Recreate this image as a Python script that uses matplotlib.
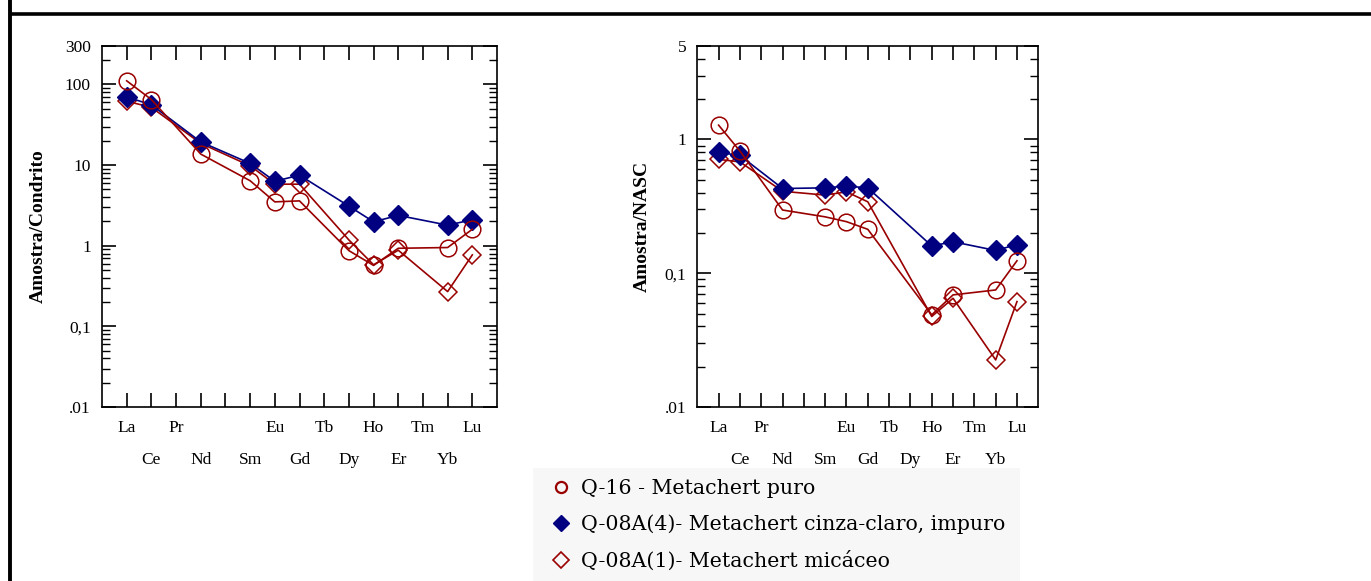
import numpy as np
import matplotlib.pyplot as plt
from matplotlib.lines import Line2D
from matplotlib.patches import Rectangle
from matplotlib.ticker import FixedLocator, LogLocator, NullFormatter

# REE order (Pm kept as an empty slot)
elements = ['La', 'Ce', 'Pr', 'Nd', 'Pm', 'Sm', 'Eu', 'Gd', 'Tb', 'Dy', 'Ho', 'Er', 'Tm', 'Yb', 'Lu']
row1 = ['La', 'Pr', 'Eu', 'Tb', 'Ho', 'Tm', 'Lu']
row2 = ['Ce', 'Nd', 'Sm', 'Gd', 'Dy', 'Er', 'Yb']
nan = np.nan

# sample / chondrite
q16_cho   = [111, 65, nan, 13.7, nan, 6.4, 3.5, 3.6, nan, 0.87, 0.57, 0.93, nan, 0.95, 1.6]
q08a4_cho = [70, 56, nan, 19.4, nan, 10.5, 6.3, 7.5, nan, 3.1, 1.98, 2.38, nan, 1.8, 2.1]
q08a1_cho = [62, 52, nan, 18.6, nan, 9.8, 5.8, 5.8, nan, 1.18, 0.58, 0.88, nan, 0.27, 0.77]

# sample / NASC
q16_nasc   = [1.28, 0.82, nan, 0.297, nan, 0.264, 0.243, 0.213, nan, nan, 0.0489, 0.0689, nan, 0.075, 0.124]
q08a4_nasc = [0.80, 0.76, nan, 0.43, nan, 0.435, 0.448, 0.435, nan, nan, 0.160, 0.172, nan, 0.148, 0.164]
q08a1_nasc = [0.71, 0.68, nan, 0.41, nan, 0.384, 0.406, 0.342, nan, nan, 0.0475, 0.065, nan, 0.0225, 0.0614]

labels = ['Q-16 - Metachert puro',
          'Q-08A(4)- Metachert cinza-claro, impuro',
          'Q-08A(1)- Metachert micáceo']

RED = '#990000'
BLUE = '#000080'
SERIF = ['Liberation Serif', 'DejaVu Serif']
W, H = 1371, 581

plt.rcParams['font.family'] = SERIF


def plot_series(ax, vals, **kw):
    v = np.array(vals, dtype=float)
    x = np.arange(len(v))
    ok = ~np.isnan(v)
    ax.plot(x[ok], v[ok], lw=1.2, **kw)


def setup_axes(ax, ymin, ymax, majors, majlabels, ylabel, lpad):
    ax.set_yscale('log')
    ax.set_ylim(ymin, ymax)
    ax.set_xlim(-1.0, len(elements))
    for s in ax.spines.values():
        s.set_linewidth(1.2)
    ax.yaxis.set_major_locator(FixedLocator(majors))
    ax.set_yticklabels(majlabels)
    ax.yaxis.set_minor_locator(LogLocator(base=10, subs=np.arange(2, 10)))
    ax.yaxis.set_minor_formatter(NullFormatter())
    ax.tick_params(axis='y', which='major', direction='in', length=10, width=1.2,
                   left=True, right=True, labelsize=12.5, pad=8)
    ax.tick_params(axis='y', which='minor', direction='in', length=6, width=1.0,
                   left=True, right=True)
    ax.set_xticks(np.arange(len(elements)))
    ax.set_xticklabels([])
    ax.tick_params(axis='x', which='major', direction='in', length=10, width=1.2,
                   top=True, bottom=True)
    ax.tick_params(axis='x', which='minor', bottom=False, top=False)
    tr = ax.get_xaxis_transform()
    for i, el in enumerate(elements):
        if el in row1:
            ax.text(i, -0.058, el, transform=tr, ha='center', va='center', fontsize=12.5)
        elif el in row2:
            ax.text(i, -0.147, el, transform=tr, ha='center', va='center', fontsize=12.5)
    ax.set_ylabel(ylabel, fontsize=14, fontweight='bold', labelpad=lpad)


fig = plt.figure(figsize=(W / 100, H / 100), dpi=100)

ax1 = fig.add_axes([102 / W, 1 - 407 / H, 395 / W, 361 / H])
ax2 = fig.add_axes([697.3 / W, 1 - 407 / H, 341 / W, 361 / H])

for ax, a1, a4, q16 in [(ax1, q08a1_cho, q08a4_cho, q16_cho),
                        (ax2, q08a1_nasc, q08a4_nasc, q16_nasc)]:
    plot_series(ax, a1, color=RED, marker='D', ms=9, mfc='none', mec=RED, mew=1.1)
    plot_series(ax, a4, color=BLUE, marker='D', ms=10, mfc=BLUE, mec=BLUE)
    plot_series(ax, q16, color=RED, marker='o', ms=12, mfc='none', mec=RED, mew=1.1)

setup_axes(ax1, 0.01, 300, [0.01, 0.1, 1, 10, 100, 300],
           ['.01', '0,1', '1', '10', '100', '300'], 'Amostra/Condrito', 13)
setup_axes(ax2, 0.01, 5, [0.01, 0.1, 1, 5],
           ['.01', '0,1', '1', '5'], 'Amostra/NASC', 10)

# outer frame lines (top and left)
fig.add_artist(Line2D([9.5 / W, 1], [1 - 13.5 / H, 1 - 13.5 / H], transform=fig.transFigure,
                      color='black', lw=2.6, solid_capstyle='butt'))
fig.add_artist(Line2D([9.5 / W, 9.5 / W], [0, 1], transform=fig.transFigure,
                      color='black', lw=2.8, solid_capstyle='butt'))

# legend box
fig.add_artist(Rectangle((533 / W, 0), (1020 - 533) / W, (581 - 468) / H,
                         transform=fig.transFigure, facecolor='#f7f7f7', edgecolor='none', zorder=0))
handles = [Line2D([], [], ls='none', marker='o', ms=8, mfc='none', mec=RED, mew=1.6),
           Line2D([], [], ls='none', marker='D', ms=8, mfc=BLUE, mec=BLUE),
           Line2D([], [], ls='none', marker='D', ms=8, mfc='none', mec=RED, mew=1.2)]
fig.legend(handles, labels, loc='upper left', bbox_to_anchor=(551 / W, 1 - 479 / H),
           frameon=False, handlelength=1.0, handletextpad=0.45,
           labelspacing=0.8, borderaxespad=0, borderpad=0,
           prop={'family': ['DejaVu Serif'], 'size': 14.8})

fig.savefig('out.png', dpi=100)
